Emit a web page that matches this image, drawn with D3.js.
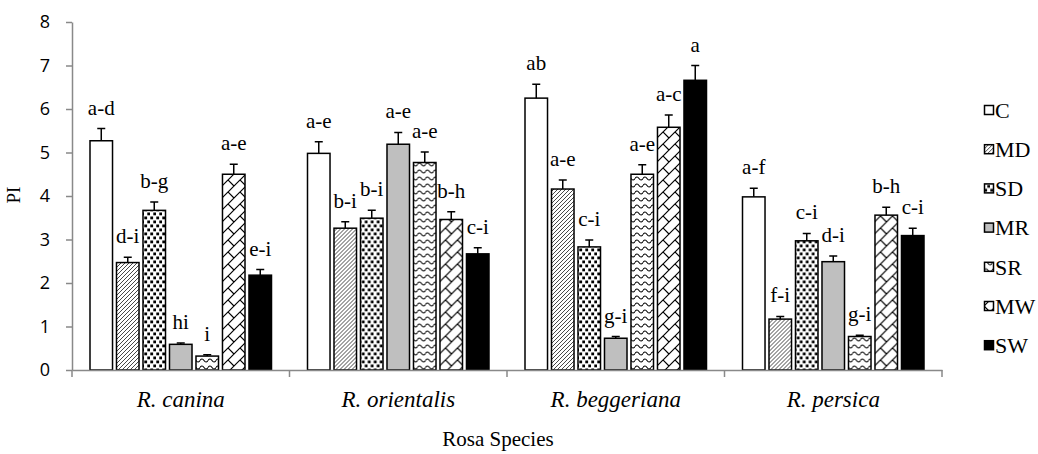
<!DOCTYPE html>
<meta charset="utf-8">
<script src="https://d3js.org/d3.v7.min.js"></script>
<style type="text/css">
body { margin: 0; background: #fff; }
.eixo path, .eixo line { stroke: #898989; stroke-width: 1.5; }
.eixo text { fill: #000; }
.barra { stroke: #000; stroke-width: 1.5; }
.erro { stroke: #000; stroke-width: 1.5; fill: none; }
.letra { font-family: "Times New Roman", "Liberation Serif", serif; font-size: 21px; fill: #000; }
</style>
<body>
<div id="canvas"></div>
<script>

var especies = ["R. canina", "R. orientalis", "R. beggeriana", "R. persica"];
var tratamentos = ["C", "MD", "SD", "MR", "SR", "MW", "SW"];

// valores de PI por tratamento (ordem das especies)
var valC  = [5.27, 4.98, 6.25, 3.98];
var valMD = [2.47, 3.26, 4.16, 1.17];
var valSD = [3.67, 3.49, 2.83, 2.97];
var valMR = [0.59, 5.19, 0.73, 2.49];
var valSR = [0.32, 4.77, 4.50, 0.77];
var valMW = [4.50, 3.46, 5.58, 3.56];
var valSW = [2.18, 2.67, 6.66, 3.09];

// erro padrao
var errC  = [0.28, 0.27, 0.32, 0.20];
var errMD = [0.12, 0.15, 0.21, 0.06];
var errSD = [0.19, 0.18, 0.16, 0.17];
var errMR = [0.03, 0.27, 0.04, 0.13];
var errSR = [0.03, 0.24, 0.22, 0.03];
var errMW = [0.23, 0.18, 0.28, 0.18];
var errSW = [0.13, 0.14, 0.34, 0.17];

// letras de significancia
var letC  = ["a-d", "a-e", "ab", "a-f"];
var letMD = ["d-i", "b-i", "a-e", "f-i"];
var letSD = ["b-g", "b-i", "c-i", "c-i"];
var letMR = ["hi", "a-e", "g-i", "d-i"];
var letSR = ["i", "a-e", "a-e", "g-i"];
var letMW = ["a-e", "b-h", "a-c", "b-h"];
var letSW = ["e-i", "c-i", "a", "c-i"];

var yTicks = [0, 1, 2, 3, 4, 5, 6, 7, 8];

var valores = [valC, valMD, valSD, valMR, valSR, valMW, valSW];
var erros = [errC, errMD, errSD, errMR, errSR, errMW, errSW];
var letras = [letC, letMD, letSD, letMR, letSR, letMW, letSW];

var data = [];
especies.forEach(function(e, i) {
    tratamentos.forEach(function(t, j) {
        data.push({ especie: e, trat: t, value: valores[j][i], err: erros[j][i], letra: letras[j][i] });
    });
});

var width = 1038;
var height = 454;

var svg = d3.select('#canvas')
    .append("svg")
    .attr('width', width)
    .attr('height', height)
    .style("background", "#fff")
    .style("display", "block");

// padroes de preenchimento ------------------------------------------
var defs = svg.append("defs");

var pMD = defs.append("pattern").attr("id", "pMD").attr("patternUnits", "userSpaceOnUse")
    .attr("width", 4).attr("height", 4);
pMD.append("rect").attr("width", 4).attr("height", 4).attr("fill", "#fff");
pMD.append("path").attr("d", "M-1,1 L1,-1 M0,4 L4,0 M3,5 L5,3").attr("stroke", "#333").attr("stroke-width", 0.9);

var pSD = defs.append("pattern").attr("id", "pSD").attr("patternUnits", "userSpaceOnUse")
    .attr("width", 6).attr("height", 8);
pSD.append("rect").attr("width", 6).attr("height", 8).attr("fill", "#fff");
pSD.append("rect").attr("x", 0.3).attr("y", 0.5).attr("width", 2.8).attr("height", 2.8).attr("fill", "#000");
pSD.append("rect").attr("x", 3.3).attr("y", 4.5).attr("width", 2.8).attr("height", 2.8).attr("fill", "#000");

var pSR = defs.append("pattern").attr("id", "pSR").attr("patternUnits", "userSpaceOnUse")
    .attr("width", 8).attr("height", 7);
pSR.append("rect").attr("width", 8).attr("height", 7).attr("fill", "#fff");
pSR.append("path").attr("d", "M0,3.5 Q2,0.5 4,3.5 T8,3.5").attr("stroke", "#000").attr("stroke-width", 1.1).attr("fill", "none");

var pMW = defs.append("pattern").attr("id", "pMW").attr("patternUnits", "userSpaceOnUse")
    .attr("width", 12).attr("height", 12);
pMW.append("rect").attr("width", 12).attr("height", 12).attr("fill", "#fff");
pMW.append("path").attr("d", "M0,12 L12,0 M-1,1 L1,-1 M11,13 L13,11 M0,0 L6,6").attr("stroke", "#000").attr("stroke-width", 1.2).attr("fill", "none");

var cores = {
    "C": "#fff",
    "MD": "url(#pMD)",
    "SD": "url(#pSD)",
    "MR": "#bfbfbf",
    "SR": "url(#pSR)",
    "MW": "url(#pMW)",
    "SW": "#000"
};

// escalas -------------------------------------------------------------
var x0 = d3.scaleBand()
    .domain(especies)
    .range([72, 942]);

var x1 = d3.scaleBand()
    .domain(tratamentos)
    .range([18, x0.bandwidth() - 18])
    .paddingInner(0.15);

var y = d3.scaleLinear()
    .domain([0, 8])
    .range([370, 22]);

// eixo Y ----------------------------------------------------------------
var gy = svg.append("g")
    .attr("class", "eixo")
    .attr("transform", "translate(72,0)")
    .call(d3.axisLeft(y).tickValues(yTicks).tickSize(6).tickPadding(16).tickSizeOuter(0));
gy.selectAll("text")
    .style("font-family", "'Open Sans', sans-serif")
    .style("font-size", "18px");

svg.append("text")
    .attr("transform", "translate(20,195) rotate(-90)")
    .attr("text-anchor", "middle")
    .style("font-family", "'Times New Roman', 'Liberation Serif', serif")
    .style("font-size", "19px")
    .text("PI");

// barras ---------------------------------------------------------------
var grupos = svg.selectAll(".grupo")
    .data(especies)
    .enter()
    .append("g")
    .attr("class", "grupo")
    .attr("transform", function(d) { return "translate(" + x0(d) + ",0)"; });

grupos.selectAll("rect")
    .data(function(e) { return data.filter(function(d) { return d.especie === e; }); })
    .enter()
    .append("rect")
    .attr("class", "barra")
    .attr("x", function(d) { return x1(d.trat); })
    .attr("y", function(d) { return y(d.value); })
    .attr("width", x1.bandwidth())
    .attr("height", function(d) { return y(0) - y(d.value); })
    .attr("fill", function(d) { return cores[d.trat]; });

// barras de erro
grupos.selectAll(".erro")
    .data(function(e) { return data.filter(function(d) { return d.especie === e; }); })
    .enter()
    .append("path")
    .attr("class", "erro")
    .attr("d", function(d) {
        var cx = x1(d.trat) + x1.bandwidth() / 2;
        return "M" + cx + "," + y(d.value) + "V" + y(d.value + d.err) +
            "M" + (cx - 4) + "," + y(d.value + d.err) + "H" + (cx + 4);
    });

// letras
grupos.selectAll(".letra")
    .data(function(e) { return data.filter(function(d) { return d.especie === e; }); })
    .enter()
    .append("text")
    .attr("class", "letra")
    .attr("text-anchor", "middle")
    .attr("x", function(d) { return x1(d.trat) + x1.bandwidth() / 2; })
    .attr("y", function(d) { return y(d.value + d.err) - 14; })
    .text(function(d) { return d.letra; });

// eixo X ----------------------------------------------------------------
var gx = svg.append("g")
    .attr("class", "eixo")
    .attr("transform", "translate(0,370)")
    .call(d3.axisBottom(x0).tickSize(0).tickPadding(21).tickSizeOuter(0));
gx.selectAll("text")
    .style("font-family", "'Times New Roman', 'Liberation Serif', serif")
    .style("font-style", "italic")
    .style("font-size", "23px");

var limites = especies.map(function(e) { return x0(e); }).concat([x0.range()[1]]);
gx.selectAll(".limite")
    .data(limites)
    .enter()
    .append("line")
    .attr("class", "limite")
    .attr("x1", function(d) { return d; })
    .attr("x2", function(d) { return d; })
    .attr("y1", 0)
    .attr("y2", 7);

svg.append("text")
    .attr("x", 498)
    .attr("y", 446)
    .attr("text-anchor", "middle")
    .style("font-family", "'Times New Roman', 'Liberation Serif', serif")
    .style("font-size", "21px")
    .text("Rosa Species");

// legenda ---------------------------------------------------------------
var leg = svg.selectAll(".leg")
    .data(tratamentos)
    .enter()
    .append("g")
    .attr("class", "leg")
    .attr("transform", function(d, i) { return "translate(984," + (110 + i * 39.2) + ")"; });

leg.append("rect")
    .attr("x", 0.5)
    .attr("y", -4.5)
    .attr("width", 9)
    .attr("height", 9)
    .attr("fill", function(d) { return cores[d]; })
    .attr("stroke", "#000")
    .attr("stroke-width", 1.5);

leg.append("text")
    .attr("x", 11)
    .attr("dy", "0.35em")
    .style("font-family", "'Times New Roman', 'Liberation Serif', serif")
    .style("font-size", "22px")
    .text(function(d) { return d; });
</script>
</body>
